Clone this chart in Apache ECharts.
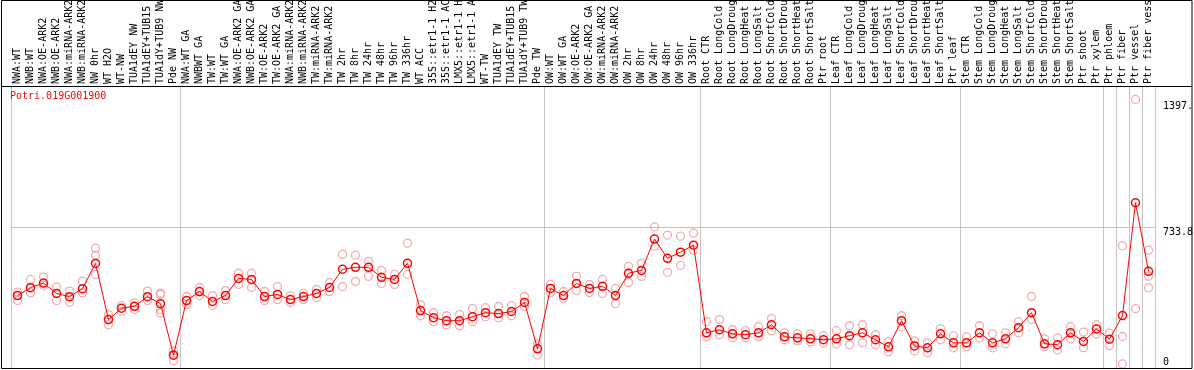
<!DOCTYPE html>
<html><head><meta charset="utf-8">
<script src="https://cdn.jsdelivr.net/npm/echarts@6/dist/echarts.min.js"></script>
<style>html,body{margin:0;padding:0;background:#fff}#c{width:1194px;height:370px}</style>
</head><body><div id="c"></div>
<script>
const geneId = 'Potri.019G001900';
const categories = [
 'NWA:WT','NWB:WT','NWA:OE-ARK2','NWB:OE-ARK2','NWA:miRNA-ARK2','NWB:miRNA-ARK2','NW 0hr','WT H2O','WT-NW','TUA1dEY NW','TUA1dEY+TUB15 NW','TUA1dY+TUB9 NW','Pde NW',
 'NWA:WT GA','NWBWT GA','TW:WT','TW:WT GA','NWA:OE-ARK2 GA','NWB:OE-ARK2 GA','TW:OE-ARK2','TW:OE-ARK2 GA','NWA:miRNA-ARK2','NWB:miRNA-ARK2','TW:miRNA-ARK2','TW:miRNA-ARK2',
 'TW 2hr','TW 8hr','TW 24hr','TW 48hr','TW 96hr','TW 336hr','WT ACC','35S::etr1-1 H2O','35S::etr1-1 ACC','LMX5::etr1-1 H2O','LMX5::etr1-1 ACC','WT-TW','TUA1dEY TW','TUA1dEY+TUB15 TW','TUA1dY+TUB9 TW','Pde TW',
 'OW:WT','OW:WT GA','OW:OE-ARK2','OW:OE-ARK2 GA','OW:miRNA-ARK2','OW:miRNA-ARK2','OW 2hr','OW 8hr','OW 24hr','OW 48hr','OW 96hr','OW 336hr',
 'Root CTR','Root LongCold','Root LongDrought','Root LongHeat','Root LongSalt','Root ShortCold','Root ShortDrought','Root ShortHeat','Root ShortSalt','Ptr root',
 'Leaf CTR','Leaf LongCold','Leaf LongDrought','Leaf LongHeat','Leaf LongSalt','Leaf ShortCold','Leaf ShortDrought','Leaf ShortHeat','Leaf ShortSalt','Ptr leaf',
 'Stem CTR','Stem LongCold','Stem LongDrought','Stem LongHeat','Stem LongSalt','Stem ShortCold','Stem ShortDrought','Stem ShortHeat','Stem ShortSalt','Ptr shoot','Ptr xylem',
 'Ptr phloem','Ptr fiber','Ptr vessel','Ptr fiber vessel'
];
// index of the first category of each group (separator lines)
const groupStarts = [0,13,41,53,63,73,84,85,86,87];
const means = [
 377,418,442,388,371,413,544,252,311,321,371,335,67,
 351,398,346,377,466,461,372,383,356,372,388,419,
 514,524,524,472,461,545,299,262,246,246,267,288,283,294,341,100,
 414,377,440,414,425,377,493,508,671,571,603,639,
 183,199,178,173,183,225,162,157,152,147,
 152,168,183,147,110,246,115,105,178,131,
 131,183,131,152,210,288,126,121,183,138,203,
 150,273,860,503
];
const rep1 = [
 395,461,473,421,400,452,624,278,295,339,400,389,89,
 372,419,377,403,493,493,398,424,377,388,409,445,
 592,587,555,508,487,650,330,288,272,278,309,314,320,325,372,126,
 435,398,477,435,461,414,529,545,734,692,686,702,
 241,252,199,194,215,257,183,178,178,168,
 194,220,225,173,136,272,141,131,204,168,
 162,220,178,183,241,372,152,157,215,187,225,
 182,636,1397.7,613
];
const rep2 = [
 351,391,430,351,342,391,587,225,325,304,351,383,38,
 330,377,325,356,435,419,351,356,341,356,367,398,
 424,451,477,440,435,487,272,241,225,220,241,267,262,272,320,68,
 393,362,403,393,388,335,445,477,634,498,534,613,
 162,173,157,157,162,194,147,141,136,131,
 126,121,131,121,84,215,89,79,147,105,
 110,157,105,126,183,252,110,94,152,106,177,
 117,164,309,478
];
const rep3 = [
 377,419,null,null,null,null,487,null,null,null,null,304,68,
 null,null,null,null,null,null,null,null,null,null,null,null,
 null,null,null,null,null,null,null,null,null,null,null,null,null,null,null,null,
 null,null,null,null,null,null,null,null,null,null,null,null,
 null,null,null,null,null,null,null,null,null,null,
 null,null,null,null,null,null,null,null,null,null,
 null,null,null,null,null,null,null,null,null,null,null,
 null,21,null,418
];
const rep4 = [
 null,null,null,null,null,null,null,null,null,null,null,287,null,
 null,null,null,null,null,null,null,null,null,null,null,null,
 null,null,null,null,null,null,null,null,null,null,null,null,null,null,null,null,
 null,null,null,null,null,null,null,null,null,null,null,null,
 null,null,null,null,null,null,null,null,null,null,
 null,null,null,null,null,null,null,null,null,null,
 null,null,null,null,null,null,null,null,null,null,null,
 null,null,null,null
];
const yMax = 1467.6;   // axis top
const yMid = 733.8;    // middle gridline / tick label
const maxLabel = '1397.';
const maxValue = 1397.7;

const FONT = 'DejaVu Sans Mono';
const repPoints = [];
[rep1, rep2, rep3, rep4].forEach(arr => arr.forEach((v, i) => { if (v != null) repPoints.push([i, v]); }));
const isGroupStart = (idx) => groupStarts.indexOf(idx) >= 0;

const chart = echarts.init(document.getElementById('c'), null, {renderer: 'canvas'});
chart.setOption({
  animation: false,
  backgroundColor: '#fff',
  title: {
    text: geneId, left: 10, top: 91, padding: 0,
    textStyle: {color: '#ff0000', fontFamily: FONT, fontSize: 10, fontWeight: 'normal'}
  },
  grid: {left: 11, right: 39, top: 86, bottom: 2, containLabel: false, outerBoundsMode: 'none'},
  xAxis: {
    type: 'category', position: 'top', data: categories, boundaryGap: true,
    axisLine: {show: true, lineStyle: {color: '#000', width: 1}},
    axisTick: {show: true, length: 86, interval: isGroupStart, lineStyle: {color: '#c4c4c4', width: 1}},
    splitLine: {show: true, interval: isGroupStart, lineStyle: {color: '#c4c4c4', width: 1}},
    axisLabel: {
      show: true, interval: 0, rotate: 90, margin: 2, color: '#000',
      fontFamily: FONT, fontSize: 10, padding: [5, 0, 0, 0], hideOverlap: false
    }
  },
  yAxis: {
    type: 'value', position: 'right', min: 0, max: yMax, interval: yMid,
    axisLine: {show: false}, axisTick: {show: false},
    splitLine: {show: true, lineStyle: {color: '#c4c4c4', width: 1}},
    axisLabel: {
      show: true, margin: 8, color: '#000', fontFamily: FONT, fontSize: 10,
      formatter: v => v === 0 ? '{b|0}' : (Math.abs(v - yMid) < 1e-6 ? '{m|' + yMid.toFixed(1) + '}' : ''),
      rich: {
        b: {fontFamily: FONT, fontSize: 10, color: '#000', padding: [0, 0, 11, 0]},
        m: {fontFamily: FONT, fontSize: 10, color: '#000', padding: [11, 0, 0, 0]}
      }
    }
  },
  series: [
    {
      type: 'scatter', data: repPoints, symbol: 'circle', symbolSize: 8, z: 2,
      itemStyle: {color: 'rgba(0,0,0,0)', borderColor: '#f09a9a', borderWidth: 1.3},
      markLine: {
        silent: true, symbol: 'none',
        lineStyle: {width: 0, color: 'rgba(0,0,0,0)'},
        label: {show: true, position: 'end', distance: 8, formatter: maxLabel,
          color: '#000', fontFamily: FONT, fontSize: 10, verticalAlign: 'top', align: 'left', padding: [2, 0, 0, 0]},
        data: [{yAxis: maxValue}]
      }
    },
    {
      type: 'line', data: means, symbol: 'circle', symbolSize: 8, z: 3,
      lineStyle: {color: '#ff0000', width: 1},
      itemStyle: {color: 'rgba(0,0,0,0)', borderColor: '#ff0000', borderWidth: 1.5}
    }
  ],
  graphic: [
    {type: 'rect', z: 100, silent: true, shape: {x: 1.5, y: 0.5, width: 1190.5, height: 368},
     style: {fill: null, stroke: '#000', lineWidth: 1}},
    {type: 'line', z: 100, silent: true, shape: {x1: 1, y1: 86.5, x2: 1192, y2: 86.5},
     style: {stroke: '#000', lineWidth: 1}}
  ]
});
</script></body></html>
